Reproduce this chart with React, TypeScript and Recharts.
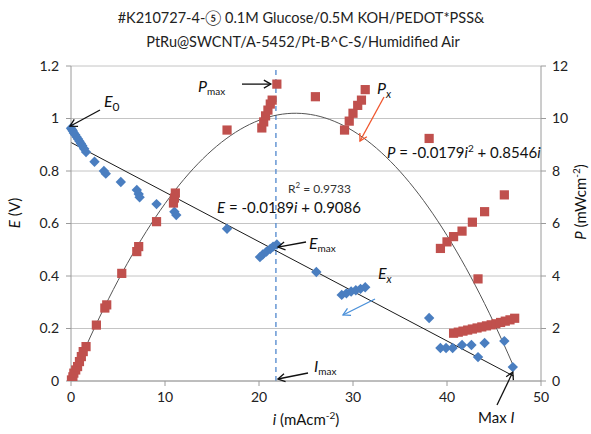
import {
  ComposedChart,
  Scatter,
  Line,
  XAxis,
  YAxis,
  CartesianGrid,
  ReferenceLine,
} from "recharts";

// E–i polarisation points (current density mA/cm², cell voltage V)
const eCurrent = [
  0, 0.1, 0.2, 0.3, 0.45, 0.6, 0.75, 0.9, 1.05, 1.2, 1.4, 1.6, 2.5, 3.5, 3.7,
  5.3, 7.0, 7.2, 7.3, 9.1, 11.0, 11.2, 16.6, 20.1, 20.4, 20.8, 21.2, 21.5, 21.9,
  26.1, 28.8, 29.3, 29.8, 30.3, 30.8, 31.3, 38.1, 39.3, 39.9, 40.6, 41.6, 42.6,
  43.3, 44.0, 46.1, 47.0,
];
const eVoltage = [
  0.963, 0.958, 0.952, 0.945, 0.938, 0.93, 0.922, 0.913, 0.905, 0.896, 0.885,
  0.872, 0.835, 0.8, 0.79, 0.758, 0.728, 0.712, 0.7, 0.674, 0.645, 0.632, 0.58,
  0.472, 0.482, 0.493, 0.503, 0.512, 0.52, 0.415, 0.328, 0.334, 0.341, 0.346,
  0.351, 0.357, 0.24, 0.126, 0.126, 0.126, 0.137, 0.137, 0.091, 0.145, 0.152,
  0.053,
];

// P–i power density points (mA/cm², mW/cm²)
const pCurrent = [
  0.05, 0.2, 0.3, 0.5, 0.7, 0.9, 1.1, 1.3, 1.6, 2.7, 3.6, 3.8, 5.4, 7.0, 7.2,
  9.1, 10.9, 11.0, 11.1, 16.6, 20.3, 20.5, 20.7, 20.95, 21.2, 21.4, 21.9, 26.0,
  29.1, 29.6, 30.0, 30.5, 30.9, 31.3, 38.1, 39.3, 40.0, 40.7, 41.6, 42.7, 44.0,
  46.1, 43.3, 40.7, 41.2, 41.7, 42.2, 42.7, 43.2, 43.7, 44.2, 44.7, 45.2, 45.7,
  46.2, 46.7, 47.2,
];
const pPower = [
  0.04, 0.16, 0.3, 0.42, 0.55, 0.74, 0.93, 1.12, 1.31, 2.13, 2.78, 2.9, 4.1,
  4.93, 5.12, 6.07, 6.78, 6.97, 7.16, 9.56, 9.64, 9.87, 10.1, 10.32, 10.55, 10.7,
  11.31, 10.83, 9.56, 9.9, 10.2, 10.5, 10.7, 11.1, 9.24, 5.05, 5.3, 5.5, 5.71,
  6.05, 6.45, 7.09, 3.89, 1.82, 1.86, 1.9, 1.94, 1.98, 2.02, 2.06, 2.1, 2.14,
  2.18, 2.23, 2.28, 2.33, 2.39,
];

// fitted trendlines as printed on the chart
const E_SLOPE = -0.0189;
const E_INTERCEPT = 0.9086;
const P_QUAD = -0.0179;
const P_LIN = 0.8546;
const TREND_END = 47.1;
const I_MAX = 21.8;

const xTicks = [0, 10, 20, 30, 40, 50];
const eTicks = [0, 0.2, 0.4, 0.6, 0.8, 1, 1.2];
const pTicks = [0, 2, 4, 6, 8, 10, 12];

const eData = eCurrent.map((i, k) => ({ i, E: eVoltage[k] }));
const pData = pCurrent.map((i, k) => ({ i, P: pPower[k] }));

const trendX: number[] = [];
for (let x = 0; x <= TREND_END; x += 0.5) trendX.push(x);
trendX.push(TREND_END);
const eTrend = [0, TREND_END].map((i) => ({ i, E: E_SLOPE * i + E_INTERCEPT }));
const pTrend = trendX.map((i) => ({ i, P: P_QUAD * i * i + P_LIN * i }));

// plot box, used to place the callouts
const W = 591;
const H = 434;
const PLOT = { left: 71, right: 541, top: 66, bottom: 381 };
const xPx = (i: number) =>
  PLOT.left + (i / 50) * (PLOT.right - PLOT.left);
const ePx = (e: number) =>
  PLOT.bottom - (e / 1.2) * (PLOT.bottom - PLOT.top);
const pPx = (p: number) =>
  PLOT.bottom - (p / 12) * (PLOT.bottom - PLOT.top);

const BLUE = "#4A7EC0";
const RED = "#C0504D";
const FONT = "Lato, 'Open Sans', sans-serif";

const Diamond = (props: any) => {
  const { cx, cy } = props;
  const r = 5.2;
  return (
    <polygon
      points={`${cx},${cy - r} ${cx + r},${cy} ${cx},${cy + r} ${cx - r},${cy}`}
      fill={BLUE}
    />
  );
};

const Square = (props: any) => {
  const { cx, cy } = props;
  return <rect x={cx - 4.6} y={cy - 4.6} width={9.2} height={9.2} fill={RED} />;
};

const Arrow = ({ x1, y1, x2, y2, color = "#111", id = "blk" }: any) => (
  <line
    x1={x1}
    y1={y1}
    x2={x2}
    y2={y2}
    stroke={color}
    strokeWidth={1.3}
    markerEnd={`url(#${id})`}
  />
);

const Callouts = () => {
  const pmax = { i: pCurrent[26], P: pPower[26] };
  const last = { i: eCurrent[eCurrent.length - 1], E: eVoltage[eVoltage.length - 1] };
  return (
    <svg
      width={W}
      height={H}
      style={{ position: "absolute", left: 0, top: 0, pointerEvents: "none" }}
      fontFamily={FONT}
    >
      <defs>
        {[
          ["blk", "#111"],
          ["red", "#F0552C"],
          ["blu", "#4A90D9"],
        ].map(([id, c]) => (
          <marker
            key={id}
            id={id}
            markerWidth={10}
            markerHeight={10}
            refX={8}
            refY={5}
            orient="auto"
            markerUnits="userSpaceOnUse"
          >
            <path d="M1,1 L8,5 L1,9" fill="none" stroke={c} strokeWidth={1.3} />
          </marker>
        ))}
      </defs>

      <text x={301} y={23} textAnchor="middle" fontSize={14.5} fill="#222">
        #K210727-4-⑤  0.1M Glucose/0.5M KOH/PEDOT*PSS&amp;
      </text>
      <text x={303} y={47} textAnchor="middle" fontSize={14.5} fill="#222">
        PtRu@SWCNT/A-5452/Pt-B^C-S/Humidified Air
      </text>

      {/* axis titles */}
      <text
        transform="translate(20,213) rotate(-90)"
        textAnchor="middle"
        fontSize={15}
        fill="#111"
      >
        <tspan fontStyle="italic">E</tspan> (V)
      </text>
      <text
        transform="translate(586,202) rotate(-90)"
        textAnchor="middle"
        fontSize={15}
        fill="#111"
      >
        <tspan fontStyle="italic">P</tspan> (mWcm
        <tspan dy={-6} fontSize={10}>-2</tspan>
        <tspan dy={6}>)</tspan>
      </text>
      <text x={306} y={425} textAnchor="middle" fontSize={15} fill="#111">
        <tspan fontStyle="italic">i</tspan> (mAcm
        <tspan dy={-6} fontSize={10}>-2</tspan>
        <tspan dy={6}>)</tspan>
      </text>

      {/* E0 */}
      <text x={104} y={107} fontSize={16} fill="#111">
        <tspan fontStyle="italic">E</tspan>
        <tspan dy={4} fontSize={12}>0</tspan>
      </text>
      <Arrow x1={100} y1={110} x2={xPx(0) - 1} y2={ePx(eVoltage[0]) - 2} />

      {/* Pmax */}
      <text x={198} y={92} fontSize={16} fill="#111">
        <tspan fontStyle="italic">P</tspan>
        <tspan dy={3} fontSize={10}>max</tspan>
      </text>
      <Arrow x1={242} y1={pPx(pmax.P)} x2={xPx(pmax.i) - 6} y2={pPx(pmax.P)} />

      {/* Px */}
      <text x={377} y={94} fontSize={16} fill="#111">
        <tspan fontStyle="italic">P</tspan>
        <tspan dy={4} fontSize={11} fontStyle="italic">x</tspan>
      </text>
      <Arrow x1={384} y1={97} x2={360} y2={141} color="#F0552C" id="red" />

      {/* fit equations */}
      <text x={387} y={158} fontSize={15} fill="#111">
        <tspan fontStyle="italic">P</tspan> = -0.0179
        <tspan fontStyle="italic">i</tspan>
        <tspan dy={-6} fontSize={10}>2</tspan>
        <tspan dy={6}> + 0.8546</tspan>
        <tspan fontStyle="italic">i</tspan>
      </text>
      <text x={288} y={193} fontSize={12} fill="#333">
        R
        <tspan dy={-5} fontSize={8}>2</tspan>
        <tspan dy={5}> = 0.9733</tspan>
      </text>
      <text x={217} y={213} fontSize={15} fill="#111">
        <tspan fontStyle="italic">E</tspan> = -0.0189
        <tspan fontStyle="italic">i</tspan> + 0.9086
      </text>

      {/* Emax */}
      <text x={309} y={249} fontSize={16} fill="#111">
        <tspan fontStyle="italic">E</tspan>
        <tspan dy={3} fontSize={10}>max</tspan>
      </text>
      <Arrow x1={306} y1={242} x2={xPx(I_MAX) + 2} y2={ePx(0.51)} />

      {/* Ex */}
      <text x={378} y={279} fontSize={16} fill="#111">
        <tspan fontStyle="italic">E</tspan>
        <tspan dy={4} fontSize={11} fontStyle="italic">x</tspan>
      </text>
      <Arrow x1={375} y1={299} x2={343} y2={315} color="#4A90D9" id="blu" />

      {/* Imax */}
      <text x={314} y={372} fontSize={16} fill="#111">
        <tspan fontStyle="italic">I</tspan>
        <tspan dy={3} fontSize={10}>max</tspan>
      </text>
      <Arrow x1={308} y1={373} x2={xPx(I_MAX) + 2} y2={PLOT.bottom - 2} />

      {/* Max I */}
      <text x={478} y={423} fontSize={15} fill="#111">
        Max <tspan fontStyle="italic">I</tspan>
      </text>
      <Arrow x1={497} y1={405} x2={xPx(last.i)} y2={ePx(last.E) + 5} />
    </svg>
  );
};

export default function App() {
  const tickStyle = { fill: "#222", fontSize: 14, fontFamily: FONT };
  return (
    <div
      style={{
        position: "absolute",
        left: 0,
        top: 0,
        width: W,
        height: H,
        background: "#fff",
      }}
    >
      <ComposedChart
        width={W}
        height={H}
        margin={{ top: 66, right: 10, bottom: 13, left: 26 }}
      >
        <CartesianGrid
          yAxisId="left"
          vertical={false}
          stroke="#c4c4c4"
          strokeWidth={1}
        />
        <XAxis
          dataKey="i"
          type="number"
          domain={[0, 50]}
          ticks={xTicks}
          height={40}
          tickSize={5}
          tickMargin={6}
          stroke="#9a9a9a"
          tick={tickStyle}
        />
        <YAxis
          yAxisId="left"
          dataKey="E"
          type="number"
          domain={[0, 1.2]}
          ticks={eTicks}
          width={45}
          tickSize={5}
          tickMargin={7}
          stroke="#9a9a9a"
          tick={tickStyle}
          allowDataOverflow
        />
        <YAxis
          yAxisId="right"
          orientation="right"
          dataKey="P"
          type="number"
          domain={[0, 12]}
          ticks={pTicks}
          width={40}
          tickSize={5}
          tickMargin={6}
          stroke="#9a9a9a"
          tick={tickStyle}
          allowDataOverflow
        />
        <ReferenceLine
          yAxisId="left"
          x={I_MAX}
          stroke="#5B8FD0"
          strokeWidth={1.4}
          strokeDasharray="5 4"
        />
        <Scatter
          yAxisId="left"
          data={eData}
          shape={Diamond}
          isAnimationActive={false}
        />
        <Scatter
          yAxisId="right"
          data={pData}
          shape={Square}
          isAnimationActive={false}
        />
        <Line
          yAxisId="left"
          data={eTrend}
          dataKey="E"
          type="linear"
          dot={false}
          activeDot={false}
          stroke="#1a1a1a"
          strokeWidth={1}
          isAnimationActive={false}
        />
        <Line
          yAxisId="right"
          data={pTrend}
          dataKey="P"
          type="monotone"
          dot={false}
          activeDot={false}
          stroke="#555"
          strokeWidth={1}
          isAnimationActive={false}
        />
      </ComposedChart>
      <Callouts />
    </div>
  );
}
